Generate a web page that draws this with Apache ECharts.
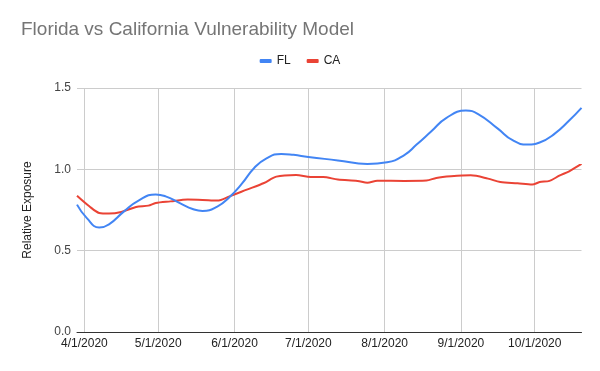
<!DOCTYPE html>
<html>
<head>
<meta charset="utf-8">
<script src="https://cdn.jsdelivr.net/npm/echarts@6/dist/echarts.min.js"></script>
<style>
html,body{margin:0;padding:0;background:#fff;}
#chart{width:600px;height:371px;}
</style>
</head>
<body>
<div id="chart"></div>
<script>
// ---- data ----
const titleText = 'Florida vs California Vulnerability Model';
const seriesNames = ['FL', 'CA'];
const yAxisName = 'Relative Exposure';
const xMin = '2020-03-29';
const xMax = '2020-10-20';
const xTickDates = ['2020-04-01','2020-05-01','2020-06-01','2020-07-01','2020-08-01','2020-09-01','2020-10-01'];
const yTicks = [0, 0.5, 1.0, 1.5];

const flDates = ['2020-03-29','2020-04-02','2020-04-07','2020-04-11','2020-04-17','2020-04-23','2020-04-30','2020-05-04','2020-05-10','2020-05-15','2020-05-19','2020-05-25','2020-05-30','2020-06-04','2020-06-09','2020-06-14','2020-06-20','2020-06-25','2020-07-01','2020-07-13','2020-07-25','2020-08-02','2020-08-09','2020-08-14','2020-08-20','2020-08-26','2020-09-03','2020-09-08','2020-09-16','2020-09-22','2020-09-28','2020-10-03','2020-10-09','2020-10-15','2020-10-20'];
const flValues = [0.783,0.700,0.643,0.662,0.740,0.808,0.846,0.834,0.791,0.756,0.744,0.771,0.830,0.912,1.008,1.068,1.095,1.089,1.076,1.055,1.033,1.043,1.088,1.152,1.234,1.315,1.361,1.340,1.250,1.179,1.152,1.165,1.218,1.300,1.378];

const caDates = ['2020-03-29','2020-04-03','2020-04-07','2020-04-11','2020-04-16','2020-04-22','2020-04-27','2020-04-30','2020-05-06','2020-05-13','2020-05-19','2020-05-25','2020-05-30','2020-06-06','2020-06-13','2020-06-18','2020-06-26','2020-07-02','2020-07-07','2020-07-13','2020-07-21','2020-07-25','2020-07-29','2020-08-09','2020-08-18','2020-08-22','2020-08-28','2020-09-05','2020-09-12','2020-09-17','2020-09-24','2020-09-30','2020-10-03','2020-10-07','2020-10-11','2020-10-15','2020-10-20'];
const caValues = [0.838,0.773,0.732,0.728,0.738,0.769,0.777,0.793,0.803,0.814,0.812,0.808,0.834,0.875,0.916,0.955,0.965,0.953,0.953,0.937,0.929,0.918,0.930,0.929,0.931,0.947,0.957,0.963,0.943,0.922,0.914,0.906,0.922,0.929,0.961,0.988,1.033];

// ---- chart ----
function ts(s){ return new Date(s + 'T00:00:00').getTime(); }
function pair(dates, vals){ return dates.map((d,i)=>[ts(d), vals[i]]); }
const tickTs = xTickDates.map(ts);

const chart = echarts.init(document.getElementById('chart'), null, {renderer:'canvas'});
const font = 'Arial, "Liberation Sans", sans-serif';
chart.setOption({
  animation: false,
  backgroundColor: '#ffffff',
  title: {
    text: titleText, left: 21, top: 20, padding: 0,
    textStyle: {fontFamily: font, fontSize: 19, fontWeight: 'normal', color: '#757575'}
  },
  legend: {
    data: seriesNames, left: 'center', top: 55, padding: 0,
    icon: 'roundRect', itemWidth: 12, itemHeight: 4, itemGap: 16,
    textStyle: {fontFamily: font, fontSize: 12, color: '#222'}
  },
  grid: {left: 77, right: 18.5, top: 88, bottom: 39, containLabel: false},
  xAxis: {
    type: 'value', min: ts(xMin), max: ts(xMax), scale: true,
    axisLine: {show: true, onZero: false, lineStyle: {color: '#333', width: 1}},
    axisTick: {show: false, customValues: tickTs},
    axisLabel: {
      customValues: tickTs, margin: 6, color: '#222', fontFamily: font, fontSize: 12,
      formatter: function(v){ const d = new Date(v); return (d.getMonth()+1) + '/' + d.getDate() + '/' + d.getFullYear(); }
    },
    splitLine: {show: true, lineStyle: {color: '#cccccc', width: 1}}
  },
  yAxis: {
    type: 'value', min: yTicks[0], max: yTicks[yTicks.length-1], interval: 0.5,
    name: yAxisName, nameLocation: 'middle', nameGap: 43, nameRotate: 90,
    nameTextStyle: {fontFamily: font, fontSize: 12, color: '#222'},
    axisLine: {show: false},
    axisTick: {show: false},
    axisLabel: {margin: 6, color: '#444', fontFamily: font, fontSize: 12, formatter: v => v.toFixed(1)},
    splitLine: {show: true, lineStyle: {color: '#cccccc', width: 1}}
  },
  series: [
    {name: seriesNames[0], type: 'line', data: pair(flDates, flValues), smooth: 0.5, symbol: 'none',
     lineStyle: {color: '#4285F4', width: 2}, itemStyle: {color: '#4285F4'}, z: 3},
    {name: seriesNames[1], type: 'line', data: pair(caDates, caValues), smooth: 0.3, symbol: 'none',
     lineStyle: {color: '#EA4335', width: 2}, itemStyle: {color: '#EA4335'}, z: 2}
  ]
});
</script>
</body>
</html>
